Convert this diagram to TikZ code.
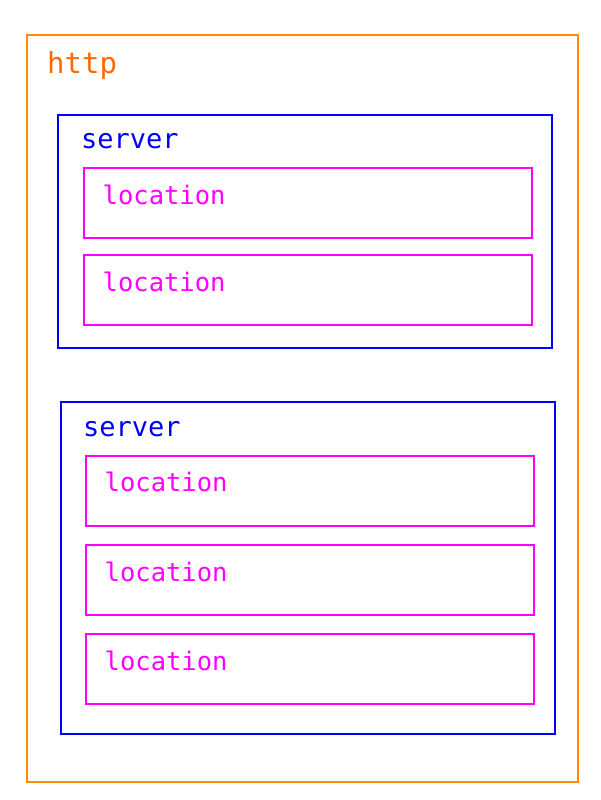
\documentclass[tikz,border=0pt]{standalone}
\usepackage{fontspec}
\newfontfamily\monofam{DejaVu Sans Mono}
\definecolor{httpline}{HTML}{FF8C00}
\definecolor{httptext}{HTML}{FF6A00}
\definecolor{srvcol}{HTML}{0000FF}
\definecolor{loccol}{HTML}{FF00FF}
\begin{document}
\begin{tikzpicture}[x=1pt,y=-1pt,
  box/.style={draw,line width=1.7pt,inner sep=0pt,outer sep=0pt,anchor=north west},
  httpbox/.style={box,draw=httpline,minimum width=551pt,minimum height=747pt},
  srvbox/.style={box,draw=srvcol,minimum width=494pt},
  locbox/.style={box,draw=loccol,minimum width=448pt,minimum height=70pt},
  lbl/.style={inner sep=0pt,anchor=base west},
  httplbl/.style={lbl,text=httptext,font=\monofam\fontsize{29}{30}\selectfont},
  srvlbl/.style={lbl,text=srvcol,font=\monofam\fontsize{27}{28}\selectfont},
  loclbl/.style={lbl,text=loccol,font=\monofam\fontsize{25.5}{27}\selectfont}]
\useasboundingbox (0,0) rectangle (600,800);
\node[httpbox] (http) at (27,35) {};
\node[httplbl] (httpt) at (47,73.5) {http};
% server 1
\node[srvbox,minimum height=233pt] (s1) at (58,115) {};
\node[srvlbl] (s1t) at (81,148) {server};
\node[locbox] (l1) at (84,168) {};
\node[loclbl] (l1t) at (102.5,204) {location};
\node[locbox] (l2) at (84,255) {};
\node[loclbl] (l2t) at (102.5,291) {location};
% server 2
\node[srvbox,minimum height=332pt] (s2) at (61,402) {};
\node[srvlbl] (s2t) at (83,436.5) {server};
\node[locbox] (l3) at (86,456) {};
\node[loclbl] (l3t) at (104.5,491.5) {location};
\node[locbox] (l4) at (86,545) {};
\node[loclbl] (l4t) at (104.5,581) {location};
\node[locbox] (l5) at (86,634) {};
\node[loclbl] (l5t) at (104.5,670.5) {location};
\end{tikzpicture}
\end{document}
